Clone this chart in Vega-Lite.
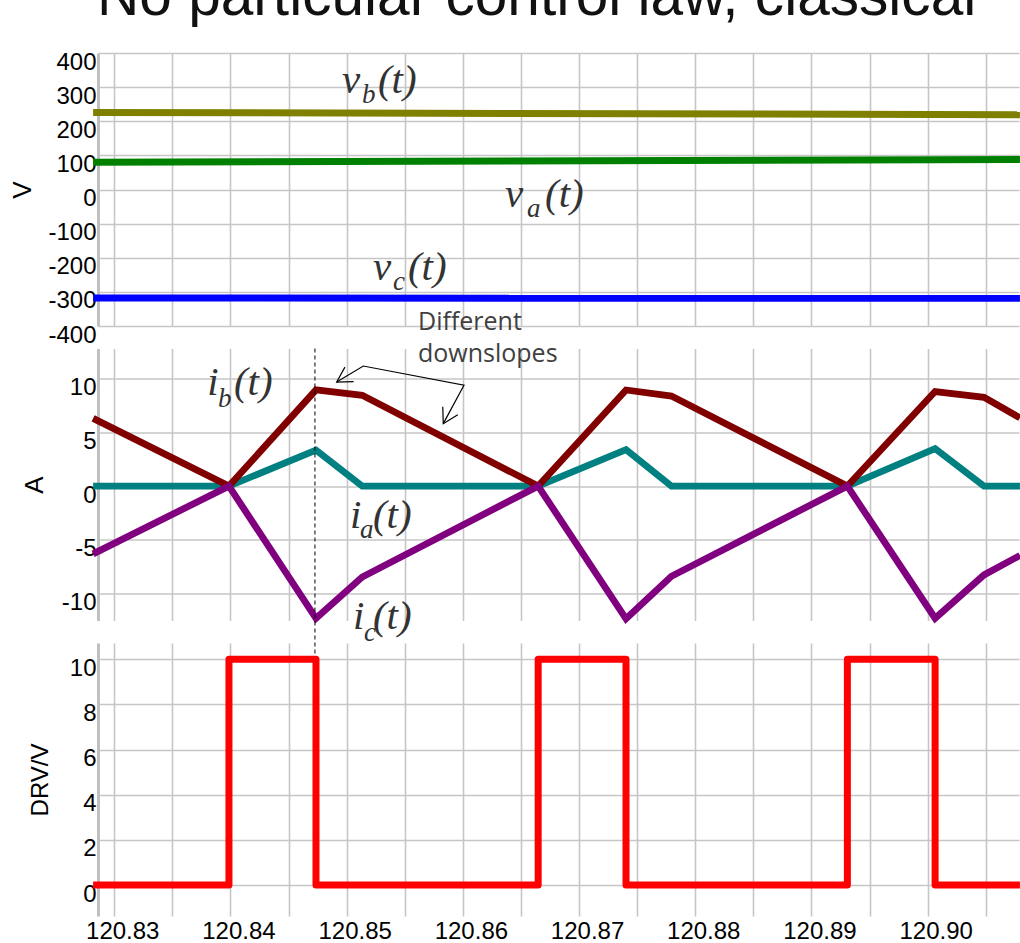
{
 "$schema": "https://vega.github.io/schema/vega-lite/v6.json",
 "usermeta": {"embedOptions": {"actions": false}},
 "background": "white",
 "padding": {"left": 9, "top": -32, "right": 0, "bottom": 0},
 "title": {"text": "No particular control law, classical", "anchor": "start", "frame": "bounds", "fontSize": 58.6, "font": "Liberation Sans", "fontWeight": "normal", "color": "#111111", "baseline": "alphabetic", "offset": -24, "dx": 88},
 "spacing": 22.5,
 "bounds": "flush",
 "resolve": {"scale": {"color": "independent"}},
 "config": {
  "view": {"stroke": null},
  "axis": {"gridColor": "#c6c6c6", "gridWidth": 1.6, "ticks": false, "tickSize": 0, "labelFont": "Liberation Sans", "titleFont": "Liberation Sans", "labelColor": "#000000", "titleColor": "#000000", "titleFontWeight": "normal", "labelFlush": false, "labelOverlap": false}
 },
 "datasets": {
  "volt": [
   {"t": 120.82818, "y": 226, "s": "vb"}, {"t": 120.90794, "y": 219, "s": "vb"},
   {"t": 120.82818, "y": 80, "s": "va"}, {"t": 120.90794, "y": 88, "s": "va"},
   {"t": 120.82818, "y": -318, "s": "vc"}, {"t": 120.90794, "y": -319, "s": "vc"}
  ],
  "vlab": [
   {"t": 120.8496, "y": 283.7, "txt": "v", "part": "sym"},
   {"t": 120.85132, "y": 254.3, "txt": "b", "part": "sub"},
   {"t": 120.85269, "y": 283.7, "txt": "(t)", "part": "arg"},
   {"t": 120.86362, "y": -50.7, "txt": "v", "part": "sym"},
   {"t": 120.86552, "y": -80.1, "txt": "a", "part": "sub"},
   {"t": 120.86707, "y": -50.7, "txt": "(t)", "part": "arg"},
   {"t": 120.85226, "y": -264.9, "txt": "v", "part": "sym"},
   {"t": 120.85398, "y": -294.2, "txt": "c", "part": "sub"},
   {"t": 120.85527, "y": -264.9, "txt": "(t)", "part": "arg"}
  ],
  "cur": [
   {"t": 120.82818, "y": 0, "s": "ia"}, {"t": 120.83987, "y": 0, "s": "ia"}, {"t": 120.84736, "y": 3.35, "s": "ia"}, {"t": 120.85134, "y": 0, "s": "ia"}, {"t": 120.86648, "y": 0, "s": "ia"}, {"t": 120.87404, "y": 3.4, "s": "ia"}, {"t": 120.87795, "y": 0, "s": "ia"}, {"t": 120.89309, "y": 0, "s": "ia"}, {"t": 120.90064, "y": 3.49, "s": "ia"}, {"t": 120.90485, "y": 0, "s": "ia"}, {"t": 120.90794, "y": 0, "s": "ia"},
   {"t": 120.82818, "y": 6.3, "s": "ib"}, {"t": 120.83987, "y": 0, "s": "ib"}, {"t": 120.84736, "y": 8.95, "s": "ib"}, {"t": 120.85134, "y": 8.45, "s": "ib"}, {"t": 120.86648, "y": 0, "s": "ib"}, {"t": 120.87404, "y": 8.94, "s": "ib"}, {"t": 120.87795, "y": 8.38, "s": "ib"}, {"t": 120.89309, "y": 0, "s": "ib"}, {"t": 120.90064, "y": 8.8, "s": "ib"}, {"t": 120.90485, "y": 8.26, "s": "ib"}, {"t": 120.90794, "y": 6.35, "s": "ib"},
   {"t": 120.82818, "y": -6.3, "s": "ic"}, {"t": 120.83987, "y": 0, "s": "ic"}, {"t": 120.84736, "y": -12.3, "s": "ic"}, {"t": 120.85134, "y": -8.45, "s": "ic"}, {"t": 120.86648, "y": 0, "s": "ic"}, {"t": 120.87404, "y": -12.34, "s": "ic"}, {"t": 120.87795, "y": -8.38, "s": "ic"}, {"t": 120.89309, "y": 0, "s": "ic"}, {"t": 120.90064, "y": -12.29, "s": "ic"}, {"t": 120.90485, "y": -8.26, "s": "ic"}, {"t": 120.90794, "y": -6.45, "s": "ic"}
  ],
  "dash": [{"t": 120.84727, "y": 12.8, "y2": -16.16}],
  "arrow": [
   {"t": 120.849139, "y": 9.68, "seg": "main", "k": 0},
   {"t": 120.851429, "y": 11.17, "seg": "main", "k": 1},
   {"t": 120.860095, "y": 9.38, "seg": "main", "k": 2},
   {"t": 120.858313, "y": 5.81, "seg": "main", "k": 3},
   {"t": 120.8506, "y": 9.71, "seg": "head1", "k": 0},
   {"t": 120.849139, "y": 9.68, "seg": "head1", "k": 1},
   {"t": 120.84985, "y": 11.07, "seg": "head1", "k": 2},
   {"t": 120.85956, "y": 6.64, "seg": "head2", "k": 0},
   {"t": 120.858313, "y": 5.81, "seg": "head2", "k": 1},
   {"t": 120.85827, "y": 7.39, "seg": "head2", "k": 2}
  ],
  "note": [
   {"t": 120.85614, "y": 14.5, "txt": "Different"},
   {"t": 120.85614, "y": 11.52, "txt": "downslopes"}
  ],
  "ilab": [
   {"t": 120.838, "y": 8.45, "txt": "i", "part": "sym"},
   {"t": 120.83892, "y": 7.33, "txt": "b", "part": "sub"},
   {"t": 120.8403, "y": 8.45, "txt": "(t)", "part": "arg"},
   {"t": 120.85028, "y": -3.94, "txt": "i", "part": "sym"},
   {"t": 120.85114, "y": -4.87, "txt": "a", "part": "sub"},
   {"t": 120.85226, "y": -3.94, "txt": "(t)", "part": "arg"},
   {"t": 120.85054, "y": -13.25, "txt": "i", "part": "sym"},
   {"t": 120.85149, "y": -14.37, "txt": "c", "part": "sub"},
   {"t": 120.85226, "y": -13.25, "txt": "(t)", "part": "arg"}
  ],
  "drv": [
   {"t": 120.82818, "y": 0}, {"t": 120.83987, "y": 10}, {"t": 120.84736, "y": 0}, {"t": 120.86648, "y": 10}, {"t": 120.87404, "y": 0}, {"t": 120.89309, "y": 10}, {"t": 120.90064, "y": 0}, {"t": 120.90794, "y": 0}
  ]
 },
 "vconcat": [
  {
   "width": 921, "height": 273,
   "encoding": {
    "x": {"field": "t", "type": "quantitative", "scale": {"domain": [120.8286, 120.90786], "nice": false, "zero": false}, "axis": {"values": [120.83, 120.835, 120.84, 120.845, 120.85, 120.855, 120.86, 120.865, 120.87, 120.875, 120.88, 120.885, 120.89, 120.895, 120.9, 120.905], "labels": false, "domain": false, "grid": true, "title": null}},
    "y": {"field": "y", "type": "quantitative", "scale": {"domain": [-400, 400], "nice": false, "zero": false}, "axis": {"values": [-400, -300, -200, -100, 0, 100, 200, 300, 400], "labelExpr": "'' + datum.value", "labelFontSize": 24, "labelOffset": 9, "labelPadding": 2, "domain": true, "domainColor": "#c0c0c0", "domainWidth": 3, "grid": true, "title": "V", "titleFontSize": 26, "titleX": -63}}
   },
   "layer": [
    {"data": {"name": "volt"}, "mark": {"type": "line", "strokeWidth": 7}, "encoding": {"color": {"field": "s", "type": "nominal", "scale": {"domain": ["vb", "va", "vc"], "range": ["#808000", "#008000", "#0000ff"]}, "legend": null}}},
    {"data": {"name": "vlab"}, "transform": [{"filter": "datum.part == 'sym'"}], "mark": {"type": "text", "font": "Liberation Serif", "fontStyle": "italic", "fontSize": 41, "align": "left", "baseline": "alphabetic", "color": "#333333"}, "encoding": {"text": {"field": "txt"}}},
    {"data": {"name": "vlab"}, "transform": [{"filter": "datum.part == 'sub'"}], "mark": {"type": "text", "font": "Liberation Serif", "fontStyle": "italic", "fontSize": 27, "align": "left", "baseline": "alphabetic", "color": "#333333"}, "encoding": {"text": {"field": "txt"}}},
    {"data": {"name": "vlab"}, "transform": [{"filter": "datum.part == 'arg'"}], "mark": {"type": "text", "font": "Liberation Serif", "fontStyle": "italic", "fontSize": 41, "align": "left", "baseline": "alphabetic", "color": "#333333"}, "encoding": {"text": {"field": "txt"}}}
   ]
  },
  {
   "width": 921, "height": 272,
   "encoding": {
    "x": {"field": "t", "type": "quantitative", "scale": {"domain": [120.8286, 120.90786], "nice": false, "zero": false}, "axis": {"values": [120.83, 120.835, 120.84, 120.845, 120.85, 120.855, 120.86, 120.865, 120.87, 120.875, 120.88, 120.885, 120.89, 120.895, 120.9, 120.905], "labels": false, "domain": false, "grid": true, "title": null}},
    "y": {"field": "y", "type": "quantitative", "scale": {"domain": [-12.5, 12.8], "nice": false, "zero": false}, "axis": {"values": [-10, -5, 0, 5, 10], "labelExpr": "'' + datum.value", "labelFontSize": 24, "labelOffset": 9, "labelPadding": 2, "domain": true, "domainColor": "#c0c0c0", "domainWidth": 3, "grid": true, "title": "A", "titleFontSize": 26, "titleX": -51}}
   },
   "layer": [
    {"data": {"name": "cur"}, "mark": {"type": "line", "strokeWidth": 6.8}, "encoding": {"color": {"field": "s", "type": "nominal", "scale": {"domain": ["ia", "ib", "ic"], "range": ["#008080", "#800000", "#800080"]}, "legend": null}}},
    {"data": {"name": "dash"}, "mark": {"type": "rule", "strokeDash": [4, 3], "strokeWidth": 1, "color": "#000000"}, "encoding": {"y2": {"field": "y2"}}},
    {"data": {"name": "arrow"}, "mark": {"type": "line", "strokeWidth": 1.2, "color": "#000000"}, "encoding": {"detail": {"field": "seg"}, "order": {"field": "k", "type": "quantitative"}}},
    {"data": {"name": "note"}, "mark": {"type": "text", "font": "Open Sans", "fontSize": 25, "align": "left", "baseline": "alphabetic", "color": "#404040"}, "encoding": {"text": {"field": "txt"}}},
    {"data": {"name": "ilab"}, "transform": [{"filter": "datum.part == 'sym'"}], "mark": {"type": "text", "font": "Liberation Serif", "fontStyle": "italic", "fontSize": 41, "align": "left", "baseline": "alphabetic", "color": "#333333"}, "encoding": {"text": {"field": "txt"}}},
    {"data": {"name": "ilab"}, "transform": [{"filter": "datum.part == 'sub'"}], "mark": {"type": "text", "font": "Liberation Serif", "fontStyle": "italic", "fontSize": 27, "align": "left", "baseline": "alphabetic", "color": "#333333"}, "encoding": {"text": {"field": "txt"}}},
    {"data": {"name": "ilab"}, "transform": [{"filter": "datum.part == 'arg'"}], "mark": {"type": "text", "font": "Liberation Serif", "fontStyle": "italic", "fontSize": 41, "align": "left", "baseline": "alphabetic", "color": "#333333"}, "encoding": {"text": {"field": "txt"}}}
   ]
  },
  {
   "width": 921, "height": 273,
   "data": {"name": "drv"},
   "mark": {"type": "line", "interpolate": "step-after", "strokeWidth": 7, "color": "#ff0000", "strokeJoin": "round"},
   "encoding": {
    "x": {"field": "t", "type": "quantitative", "scale": {"domain": [120.8286, 120.90786], "nice": false, "zero": false}, "axis": {"values": [120.83, 120.835, 120.84, 120.845, 120.85, 120.855, 120.86, 120.865, 120.87, 120.875, 120.88, 120.885, 120.89, 120.895, 120.9, 120.905], "labelExpr": "round(datum.value * 1000) % 10 == 0 ? format(datum.value, '.2f') : ''", "labelFontSize": 24, "labelOffset": 8, "labelPadding": 3, "domain": false, "grid": true, "title": null}},
    "y": {"field": "y", "type": "quantitative", "scale": {"domain": [-1.37, 10.72], "nice": false, "zero": false}, "axis": {"values": [0, 2, 4, 6, 8, 10], "labelExpr": "'' + datum.value", "labelFontSize": 24, "labelOffset": 9, "labelPadding": 2, "domain": true, "domainColor": "#c0c0c0", "domainWidth": 3, "grid": true, "title": "DRV/V", "titleFontSize": 24, "titleX": -46}}
   }
  }
 ]
}
